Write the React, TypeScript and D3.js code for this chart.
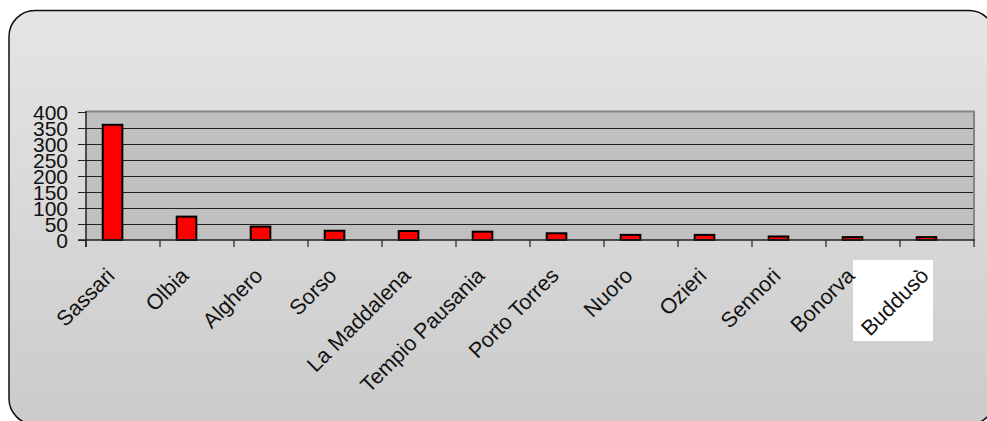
import React from "react";
import * as d3 from "d3";

// Municipalities and their values
const categories = [
  "Sassari",
  "Olbia",
  "Alghero",
  "Sorso",
  "La Maddalena",
  "Tempio Pausania",
  "Porto Torres",
  "Nuoro",
  "Ozieri",
  "Sennori",
  "Bonorva",
  "Buddusò",
];
const values = [360, 73, 42, 29, 28, 26, 21, 16, 16, 11, 9, 9];
const yTicks = [0, 50, 100, 150, 200, 250, 300, 350, 400];

const W = 987;
const H = 421;
const FONT = "'Liberation Sans', Arial, sans-serif";

export default function App() {
  const plotLeft = 86;
  const plotRight = 974;
  const plotTop = 112;
  const plotBottom = 240;

  const x = d3
    .scaleBand<string>()
    .domain(categories)
    .range([plotLeft, plotRight])
    .paddingInner(0)
    .paddingOuter(0);
  const y = d3.scaleLinear().domain([0, 400]).range([plotBottom, plotTop]);
  const bw = x.bandwidth();

  const boundaries = categories.map((c) => x(c) as number).concat([plotRight]);

  return (
    <div style={{ position: "fixed", left: 0, top: 0, width: W, height: H, background: "#fff" }}>
      <svg width={W} height={H} style={{ display: "block" }}>
        <defs>
          <linearGradient id="bg" x1="0" y1="0" x2="0" y2="1">
            <stop offset="0" stopColor="#e5e5e5" />
            <stop offset="1" stopColor="#cbcbcb" />
          </linearGradient>
        </defs>
        {/* outer frame */}
        <rect
          x={9}
          y={10.5}
          width={986}
          height={414}
          rx={26}
          ry={26}
          fill="url(#bg)"
          stroke="#111"
          strokeWidth={1.5}
        />
        {/* plot area */}
        <rect
          x={plotLeft}
          y={plotTop}
          width={plotRight - plotLeft}
          height={plotBottom - plotTop}
          fill="#c0c0c0"
        />
        <line x1={plotLeft} x2={plotRight + 1} y1={plotTop - 0.5} y2={plotTop - 0.5} stroke="#858585" strokeWidth={2} />
        <line x1={plotRight} x2={plotRight} y1={plotTop - 1} y2={plotBottom} stroke="#858585" strokeWidth={2} />
        {/* gridlines */}
        {yTicks
          .filter((t) => t > 0 && t < 400)
          .map((t) => (
            <line
              key={"g" + t}
              x1={plotLeft}
              x2={plotRight - 1}
              y1={Math.round(y(t)) + 0.5}
              y2={Math.round(y(t)) + 0.5}
              stroke="#222"
              strokeWidth={1}
            />
          ))}
        {/* bars */}
        {categories.map((c, i) => (
          <rect
            key={"b" + c}
            x={(x(c) as number) + bw * 0.226}
            y={y(values[i])}
            width={bw * 0.265}
            height={plotBottom - y(values[i])}
            fill="#ff0000"
            stroke="#000"
            strokeWidth={2}
          />
        ))}
        {/* axes */}
        <line x1={plotLeft - 8} x2={plotRight + 1} y1={plotBottom} y2={plotBottom} stroke="#222" strokeWidth={1.5} />
        <line x1={plotLeft} x2={plotLeft} y1={plotTop - 1} y2={plotBottom + 7} stroke="#222" strokeWidth={1.5} />
        {yTicks.map((t) => (
          <line
            key={"yt" + t}
            x1={plotLeft - 8}
            x2={plotLeft}
            y1={Math.round(y(t)) + 0.5}
            y2={Math.round(y(t)) + 0.5}
            stroke="#222"
            strokeWidth={1}
          />
        ))}
        {boundaries.map((bx, i) => (
          <line
            key={"xt" + i}
            x1={bx}
            x2={bx}
            y1={plotBottom}
            y2={plotBottom + 7}
            stroke="#222"
            strokeWidth={1.2}
          />
        ))}
        {yTicks.map((t) => (
          <text
            key={"yl" + t}
            x={68}
            y={y(t) + 8}
            textAnchor="end"
            fontFamily={FONT}
            fontSize={21}
            fill="#111"
          >
            {t}
          </text>
        ))}
        {/* white box behind the last category label */}
        <rect x={853} y={260} width={80} height={81} fill="#fff" />
        {categories.map((c) => {
          const ex = (x(c) as number) + 30;
          const ey = 277;
          return (
            <text
              key={"xl" + c}
              x={ex}
              y={ey}
              transform={`rotate(-45 ${ex} ${ey})`}
              textAnchor="end"
              fontFamily={FONT}
              fontSize={21.5}
              fill="#111"
            >
              {c}
            </text>
          );
        })}
      </svg>
    </div>
  );
}
